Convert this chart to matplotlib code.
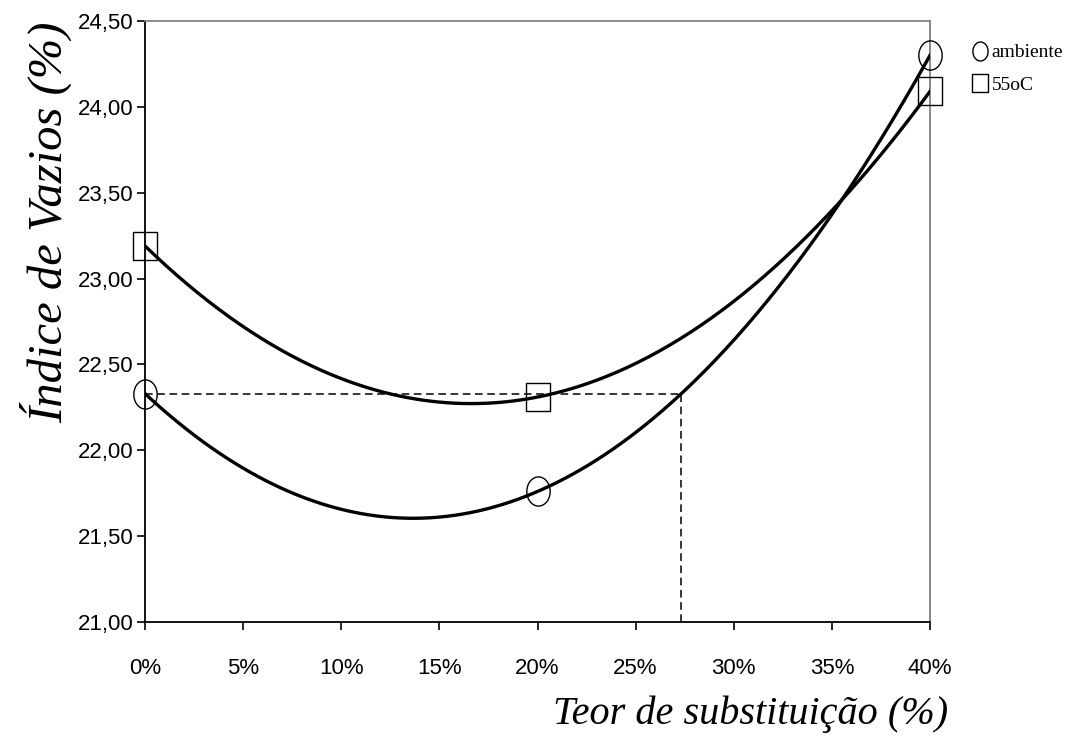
#!/usr/bin/env python3
import numpy as np
import matplotlib
matplotlib.use('Agg')
import matplotlib.pyplot as plt
from matplotlib.path import Path
from matplotlib.ticker import FuncFormatter

# teor de substituicao (%) e indice de vazios (%)
teor = [0, 20, 40]
ambiente = [22.33, 21.76, 24.30]
c55 = [23.19, 22.31, 24.09]
labels = ['ambiente', '55oC']

def oval_marker():
	"""
	Ellipse a bit taller than wide, like the Excel circle marker
	"""
	t = np.linspace(0, 2 * np.pi, 60)
	verts = np.column_stack([0.8 * np.cos(t), np.sin(t)])
	return Path(verts, closed=True)

def box_marker():
	verts = [(-0.85, -1), (0.85, -1), (0.85, 1), (-0.85, 1), (-0.85, -1)]
	return Path(verts, closed=True)

def do_main():
	fig = plt.figure(figsize=(10.82, 7.4), dpi=100)
	ax = fig.add_axes([145 / 1082, 1 - 622 / 740, (930 - 145) / 1082, (622 - 21) / 740])

	xs = np.linspace(0, 40, 300)
	p_amb = np.polyfit(teor, ambiente, 2)
	p_55 = np.polyfit(teor, c55, 2)

	ax.plot(xs, np.polyval(p_amb, xs), color='black', lw=2.4, zorder=4)
	ax.plot(xs, np.polyval(p_55, xs), color='black', lw=2.4, zorder=4)

	ax.plot(teor, ambiente, linestyle='none', marker=oval_marker(), markersize=21,
			markerfacecolor='none', markeredgecolor='black', markeredgewidth=1.0,
			zorder=3, clip_on=False, label=labels[0])
	ax.plot(teor, c55, linestyle='none', marker=box_marker(), markersize=20,
			markerfacecolor='none', markeredgecolor='black', markeredgewidth=1.0,
			zorder=3, clip_on=False, label=labels[1])

	# where the ambiente curve gets back to its 0% value
	roots = np.roots(p_amb - np.array([0, 0, ambiente[0]]))
	x_cross = max(r.real for r in roots)
	ax.plot([0, x_cross], [ambiente[0], ambiente[0]], color='black', lw=1.1, ls=(0, (5, 3)), zorder=2)
	ax.plot([x_cross, x_cross], [21, ambiente[0]], color='black', lw=1.1, ls=(0, (5, 3)), zorder=2)

	ax.set_xlim(0, 40)
	ax.set_ylim(21, 24.5)
	ax.set_xticks(np.arange(0, 41, 5))
	ax.set_yticks(np.arange(21, 24.51, 0.5))
	ax.xaxis.set_major_formatter(FuncFormatter(lambda v, p: f'{v:.0f}%'))
	ax.yaxis.set_major_formatter(FuncFormatter(lambda v, p: f'{v:.2f}'.replace('.', ',')))
	ax.tick_params(axis='both', direction='out', length=6, width=1.2, labelsize=16,
				   colors='black')
	ax.tick_params(axis='x', pad=20)
	ax.tick_params(axis='y', pad=2)
	for lab in ax.get_xticklabels() + ax.get_yticklabels():
		lab.set_family('Liberation Sans')

	ax.spines['left'].set_color('black')
	ax.spines['bottom'].set_color('black')
	ax.spines['left'].set_linewidth(1.3)
	ax.spines['bottom'].set_linewidth(1.3)
	ax.spines['top'].set_color('#808080')
	ax.spines['right'].set_color('#808080')
	ax.spines['top'].set_linewidth(1.3)
	ax.spines['right'].set_linewidth(1.3)

	fig.text(0.876, 0.010, 'Teor de substituição (%)', ha='right', va='bottom',
			 family='Liberation Serif', style='italic', fontsize=29)
	fig.text(0.018, 1 - 222 / 740, 'Índice de Vazios (%)', ha='left', va='center', rotation=90,
			 family='Liberation Serif', style='italic', fontsize=35)

	ax.legend(loc='upper left', bbox_to_anchor=(1.046, 0.975), frameon=False,
			  prop={'family': 'Liberation Serif', 'size': 14}, handlelength=0.6,
			  handletextpad=0.3, labelspacing=0.75, borderaxespad=0, markerscale=0.65)

	fig.savefig('out.png', dpi=100)

if __name__ == '__main__':
	do_main()
